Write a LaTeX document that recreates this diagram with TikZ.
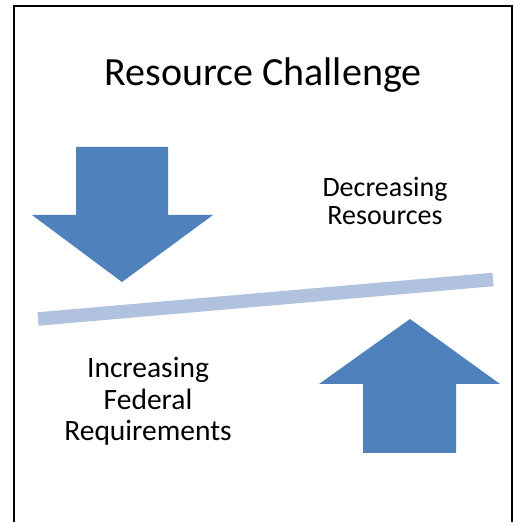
\documentclass[tikz,border=0pt]{standalone}
\usepackage{fontspec}
\setmainfont{Carlito}
\definecolor{arrowblue}{HTML}{4F81BD}
\definecolor{barblue}{HTML}{B0C2DD}
\tikzset{
    label/.style={align=center, inner sep=0pt, anchor=base},
}
\begin{document}
\begin{tikzpicture}[x=1pt, y=1pt]
    \useasboundingbox (0,0) rectangle (514,522);
    \fill[white] (0,0) rectangle (514,522);
    \draw[line width=2pt] (14,0) -- (14,516) -- (512,516) -- (512,0);

    \node[label, font=\fontsize{40}{44}\selectfont] (title) at (263,436) {Resource Challenge};

    \fill[arrowblue] (76,375) -- (168,375) -- (168,307) -- (213,307) -- (122,240) -- (32,307) -- (76,307) -- cycle;
    \fill[arrowblue] (410,203) -- (500,138) -- (456,138) -- (456,69) -- (363,69) -- (363,138) -- (319,138) -- cycle;
    \draw[barblue, line width=13.5pt] (38,203) -- (493,242.5);

    % base anchor sits on the last line
    \node[label, font=\fontsize{28}{28.5}\selectfont] (decr) at (385,297) {Decreasing\\Resources};
    \node[label, font=\fontsize{29.5}{31.5}\selectfont] (incr) at (148,81) {Increasing\\Federal\\Requirements};
\end{tikzpicture}
\end{document}
